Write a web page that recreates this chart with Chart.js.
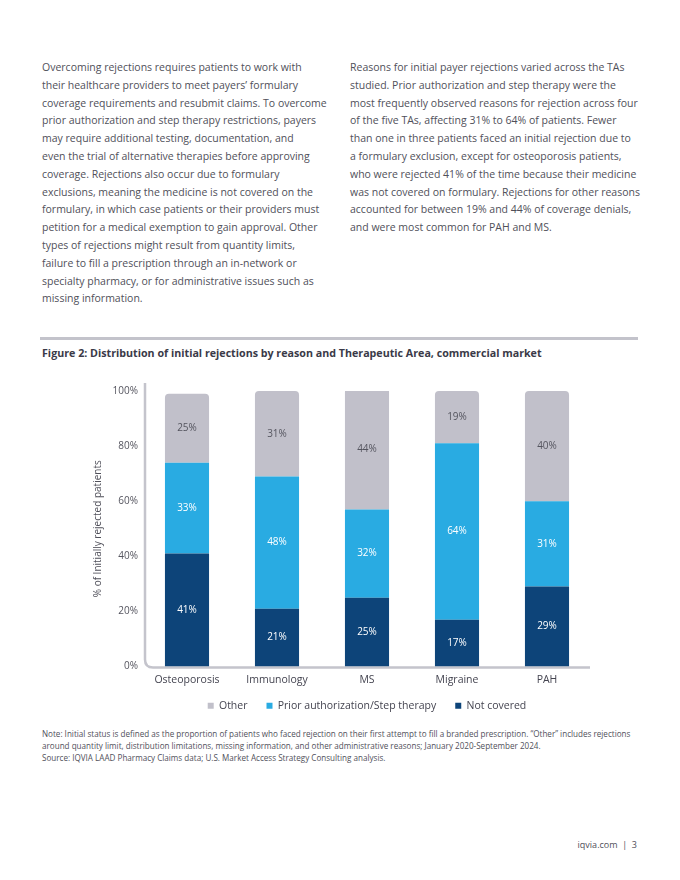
<!DOCTYPE html>
<html>
<head>
<meta charset="utf-8">
<script src="https://cdn.jsdelivr.net/npm/chart.js@4.4.1/dist/chart.umd.min.js"></script>
<style>
  html, body { margin:0; padding:0; background:#fff; }
  body { width:680px; height:880px; position:relative; overflow:hidden; font-family:'Open Sans', sans-serif; }
  .col { position:absolute; top:59px; font-size:10.5px; line-height:17.8px; color:#50505a; white-space:nowrap; }
  .rule { position:absolute; left:40px; top:337px; width:598px; height:3px; background:#c3c3cb; }
  .title { position:absolute; left:42px; top:346px; font-size:10.7px; font-weight:700; color:#3a3a48; white-space:nowrap; }
  .notes { position:absolute; left:42px; top:728px; font-size:8.1px; line-height:12px; color:#50505a; white-space:nowrap; }
  .footer { position:absolute; right:43px; top:838px; font-size:9px; color:#50505a; white-space:nowrap; }
  #wrap { position:absolute; left:40px; top:375px; width:600px; height:353px; }
</style>
</head>
<body>
<div class="col" style="left:42px;">
Overcoming rejections requires patients to work with<br>
their healthcare providers to meet payers’ formulary<br>
coverage requirements and resubmit claims. To overcome<br>
prior authorization and step therapy restrictions, payers<br>
may require additional testing, documentation, and<br>
even the trial of alternative therapies before approving<br>
coverage. Rejections also occur due to formulary<br>
exclusions, meaning the medicine is not covered on the<br>
formulary, in which case patients or their providers must<br>
petition for a medical exemption to gain approval. Other<br>
types of rejections might result from quantity limits,<br>
failure to fill a prescription through an in-network or<br>
specialty pharmacy, or for administrative issues such as<br>
missing information.
</div>
<div class="col" style="left:350px;">
Reasons for initial payer rejections varied across the TAs<br>
studied. Prior authorization and step therapy were the<br>
most frequently observed reasons for rejection across four<br>
of the five TAs, affecting 31% to 64% of patients. Fewer<br>
than one in three patients faced an initial rejection due to<br>
a formulary exclusion, except for osteoporosis patients,<br>
who were rejected 41% of the time because their medicine<br>
was not covered on formulary. Rejections for other reasons<br>
accounted for between 19% and 44% of coverage denials,<br>
and were most common for PAH and MS.
</div>
<div class="rule"></div>
<div class="title">Figure 2: Distribution of initial rejections by reason and Therapeutic Area, commercial market</div>
<div id="wrap"><canvas id="c"></canvas></div>
<div class="notes">
Note: Initial status is defined as the proportion of patients who faced rejection on their first attempt to fill a branded prescription. “Other” includes rejections<br>
around quantity limit, distribution limitations, missing information, and other administrative reasons; January 2020-September 2024.<br>
Source: IQVIA LAAD Pharmacy Claims data; U.S. Market Access Strategy Consulting analysis.
</div>
<div class="footer">iqvia.com &nbsp;|&nbsp; 3</div>

<script>
const categories = ['Osteoporosis', 'Immunology', 'MS', 'Migraine', 'PAH'];
const notCovered = [41, 21, 25, 17, 29];
const priorAuth = [33, 48, 32, 64, 31];
const other = [25, 31, 44, 19, 40];
const yTicks = [0, 20, 40, 60, 80, 100];

Chart.defaults.font.family = "'Open Sans', sans-serif";

const axisLine = {
  id: 'axisLine',
  afterLayout(chart) {
    if (chart.legend) { chart.legend.top -= 7; chart.legend.bottom -= 7; }
  },
  beforeDatasetsDraw(chart) {
    const {ctx, chartArea: a} = chart;
    const x = a.left + 3, yTop = a.top - 8, yB = a.bottom + 1, r = 8;
    ctx.save();
    ctx.strokeStyle = '#c4c4cc';
    ctx.lineWidth = 2.5;
    ctx.beginPath();
    ctx.moveTo(x, yTop);
    ctx.lineTo(x, yB - r);
    ctx.quadraticCurveTo(x, yB, x + r, yB);
    ctx.lineTo(a.right - 2, yB);
    ctx.stroke();
    ctx.restore();
  }
};

const barLabels = {
  id: 'barLabels',
  afterDatasetsDraw(chart) {
    const {ctx} = chart;
    ctx.save();
    ctx.font = "10px 'Open Sans', sans-serif";
    ctx.textAlign = 'center';
    ctx.textBaseline = 'middle';
    chart.data.datasets.forEach((ds, di) => {
      const meta = chart.getDatasetMeta(di);
      meta.data.forEach((el, i) => {
        const p = el.getProps(['x', 'y', 'base'], true);
        ctx.fillStyle = ds.labelColor;
        ctx.fillText(ds.data[i] + '%', p.x, (p.y + p.base) / 2);
      });
    });
    ctx.restore();
  }
};

new Chart(document.getElementById('c'), {
  type: 'bar',
  data: {
    labels: categories,
    datasets: [
      { label: 'Not covered', data: notCovered, backgroundColor: '#0d4479', labelColor: '#ffffff' },
      { label: 'Prior authorization/Step therapy', data: priorAuth, backgroundColor: '#29abe2', labelColor: '#ffffff' },
      { label: 'Other', data: other, backgroundColor: '#c1c0ca', labelColor: '#55555f',
        borderRadius: {topLeft: 4, topRight: 4, bottomLeft: 0, bottomRight: 0}, borderSkipped: 'bottom' }
    ]
  },
  options: {
    responsive: true,
    maintainAspectRatio: false,
    animation: false,
    layout: { padding: { top: 16, right: 48, left: 0, bottom: 0 } },
    datasets: { bar: { categoryPercentage: 1, barPercentage: 0.49 } },
    plugins: {
      tooltip: { enabled: false },
      legend: {
        position: 'bottom',
        fullSize: false,
        reverse: true,
        labels: { boxWidth: 6, boxHeight: 6, padding: 19, color: '#444450', font: { size: 10.5 } }
      }
    },
    scales: {
      x: {
        stacked: true,
        grid: { display: false, drawTicks: false },
        border: { display: false },
        ticks: { color: '#444450', font: { size: 10.5 }, padding: 7 },
        afterFit(s) { s.height = 22; }
      },
      y: {
        stacked: true,
        min: 0, max: 100,
        afterBuildTicks(s) { s.ticks = yTicks.map(v => ({ value: v })); },
        grid: { display: false, drawTicks: false },
        border: { display: false },
        ticks: { color: '#55555f', font: { size: 10 }, padding: 4, callback: v => v + '%' },
        title: { display: true, text: '% of Initially rejected patients', color: '#50505a', font: { size: 10 }, padding: { top: 52, bottom: 0 } },
        afterFit(s) { s.width = 102; }
      }
    }
  },
  plugins: [axisLine, barLabels]
});
</script>
</body>
</html>
